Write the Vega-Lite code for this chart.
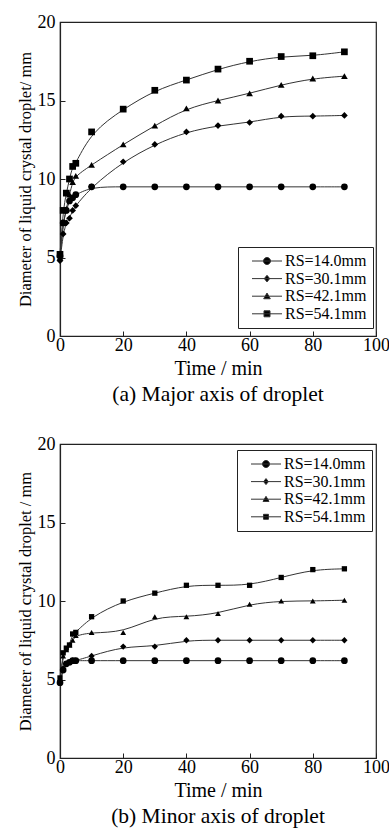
{
  "$schema": "https://vega.github.io/schema/vega-lite/v6.json",
  "padding": {"left": 16, "top": 12, "right": 0, "bottom": 0},
  "background": "white",
  "datasets": {
    "major": [
      {"t": 0, "d": 5.1, "RS": "RS=14.0mm"}, {"t": 1, "d": 7.2, "RS": "RS=14.0mm"}, {"t": 2, "d": 8.0, "RS": "RS=14.0mm"}, {"t": 3, "d": 8.6, "RS": "RS=14.0mm"}, {"t": 4, "d": 8.8, "RS": "RS=14.0mm"}, {"t": 5, "d": 9.0, "RS": "RS=14.0mm"}, {"t": 10, "d": 9.5, "RS": "RS=14.0mm"}, {"t": 20, "d": 9.5, "RS": "RS=14.0mm"}, {"t": 30, "d": 9.5, "RS": "RS=14.0mm"}, {"t": 40, "d": 9.5, "RS": "RS=14.0mm"}, {"t": 50, "d": 9.5, "RS": "RS=14.0mm"}, {"t": 60, "d": 9.5, "RS": "RS=14.0mm"}, {"t": 70, "d": 9.5, "RS": "RS=14.0mm"}, {"t": 80, "d": 9.5, "RS": "RS=14.0mm"}, {"t": 90, "d": 9.5, "RS": "RS=14.0mm"},
      {"t": 0, "d": 4.8, "RS": "RS=30.1mm"}, {"t": 1, "d": 6.5, "RS": "RS=30.1mm"}, {"t": 2, "d": 7.2, "RS": "RS=30.1mm"}, {"t": 3, "d": 7.5, "RS": "RS=30.1mm"}, {"t": 4, "d": 8.0, "RS": "RS=30.1mm"}, {"t": 5, "d": 8.3, "RS": "RS=30.1mm"}, {"t": 10, "d": 9.5, "RS": "RS=30.1mm"}, {"t": 20, "d": 11.1, "RS": "RS=30.1mm"}, {"t": 30, "d": 12.2, "RS": "RS=30.1mm"}, {"t": 40, "d": 13.0, "RS": "RS=30.1mm"}, {"t": 50, "d": 13.4, "RS": "RS=30.1mm"}, {"t": 60, "d": 13.6, "RS": "RS=30.1mm"}, {"t": 70, "d": 14.0, "RS": "RS=30.1mm"}, {"t": 80, "d": 14.0, "RS": "RS=30.1mm"}, {"t": 90, "d": 14.05, "RS": "RS=30.1mm"},
      {"t": 0, "d": 5.0, "RS": "RS=42.1mm"}, {"t": 1, "d": 7.2, "RS": "RS=42.1mm"}, {"t": 2, "d": 8.1, "RS": "RS=42.1mm"}, {"t": 3, "d": 9.0, "RS": "RS=42.1mm"}, {"t": 4, "d": 9.8, "RS": "RS=42.1mm"}, {"t": 5, "d": 10.2, "RS": "RS=42.1mm"}, {"t": 10, "d": 10.9, "RS": "RS=42.1mm"}, {"t": 20, "d": 12.2, "RS": "RS=42.1mm"}, {"t": 30, "d": 13.4, "RS": "RS=42.1mm"}, {"t": 40, "d": 14.5, "RS": "RS=42.1mm"}, {"t": 50, "d": 15.0, "RS": "RS=42.1mm"}, {"t": 60, "d": 15.45, "RS": "RS=42.1mm"}, {"t": 70, "d": 16.0, "RS": "RS=42.1mm"}, {"t": 80, "d": 16.4, "RS": "RS=42.1mm"}, {"t": 90, "d": 16.55, "RS": "RS=42.1mm"},
      {"t": 0, "d": 5.2, "RS": "RS=54.1mm"}, {"t": 1, "d": 8.0, "RS": "RS=54.1mm"}, {"t": 2, "d": 9.1, "RS": "RS=54.1mm"}, {"t": 3, "d": 10.0, "RS": "RS=54.1mm"}, {"t": 4, "d": 10.8, "RS": "RS=54.1mm"}, {"t": 5, "d": 11.0, "RS": "RS=54.1mm"}, {"t": 10, "d": 13.0, "RS": "RS=54.1mm"}, {"t": 20, "d": 14.45, "RS": "RS=54.1mm"}, {"t": 30, "d": 15.65, "RS": "RS=54.1mm"}, {"t": 40, "d": 16.3, "RS": "RS=54.1mm"}, {"t": 50, "d": 17.0, "RS": "RS=54.1mm"}, {"t": 60, "d": 17.5, "RS": "RS=54.1mm"}, {"t": 70, "d": 17.8, "RS": "RS=54.1mm"}, {"t": 80, "d": 17.85, "RS": "RS=54.1mm"}, {"t": 90, "d": 18.1, "RS": "RS=54.1mm"}
    ],
    "minor": [
      {"t": 0, "d": 4.8, "RS": "RS=14.0mm"}, {"t": 1, "d": 5.6, "RS": "RS=14.0mm"}, {"t": 2, "d": 6.0, "RS": "RS=14.0mm"}, {"t": 3, "d": 6.1, "RS": "RS=14.0mm"}, {"t": 4, "d": 6.2, "RS": "RS=14.0mm"}, {"t": 5, "d": 6.2, "RS": "RS=14.0mm"}, {"t": 10, "d": 6.2, "RS": "RS=14.0mm"}, {"t": 20, "d": 6.2, "RS": "RS=14.0mm"}, {"t": 30, "d": 6.2, "RS": "RS=14.0mm"}, {"t": 40, "d": 6.2, "RS": "RS=14.0mm"}, {"t": 50, "d": 6.2, "RS": "RS=14.0mm"}, {"t": 60, "d": 6.2, "RS": "RS=14.0mm"}, {"t": 70, "d": 6.2, "RS": "RS=14.0mm"}, {"t": 80, "d": 6.2, "RS": "RS=14.0mm"}, {"t": 90, "d": 6.2, "RS": "RS=14.0mm"},
      {"t": 0, "d": 4.9, "RS": "RS=30.1mm"}, {"t": 1, "d": 5.7, "RS": "RS=30.1mm"}, {"t": 2, "d": 6.0, "RS": "RS=30.1mm"}, {"t": 3, "d": 6.1, "RS": "RS=30.1mm"}, {"t": 4, "d": 6.2, "RS": "RS=30.1mm"}, {"t": 5, "d": 6.2, "RS": "RS=30.1mm"}, {"t": 10, "d": 6.5, "RS": "RS=30.1mm"}, {"t": 20, "d": 7.1, "RS": "RS=30.1mm"}, {"t": 30, "d": 7.1, "RS": "RS=30.1mm"}, {"t": 40, "d": 7.5, "RS": "RS=30.1mm"}, {"t": 50, "d": 7.5, "RS": "RS=30.1mm"}, {"t": 60, "d": 7.5, "RS": "RS=30.1mm"}, {"t": 70, "d": 7.5, "RS": "RS=30.1mm"}, {"t": 80, "d": 7.5, "RS": "RS=30.1mm"}, {"t": 90, "d": 7.5, "RS": "RS=30.1mm"},
      {"t": 0, "d": 5.0, "RS": "RS=42.1mm"}, {"t": 1, "d": 6.5, "RS": "RS=42.1mm"}, {"t": 2, "d": 6.9, "RS": "RS=42.1mm"}, {"t": 3, "d": 7.2, "RS": "RS=42.1mm"}, {"t": 4, "d": 7.5, "RS": "RS=42.1mm"}, {"t": 5, "d": 7.8, "RS": "RS=42.1mm"}, {"t": 10, "d": 8.0, "RS": "RS=42.1mm"}, {"t": 20, "d": 8.0, "RS": "RS=42.1mm"}, {"t": 30, "d": 9.0, "RS": "RS=42.1mm"}, {"t": 40, "d": 9.0, "RS": "RS=42.1mm"}, {"t": 50, "d": 9.2, "RS": "RS=42.1mm"}, {"t": 60, "d": 9.8, "RS": "RS=42.1mm"}, {"t": 70, "d": 10.0, "RS": "RS=42.1mm"}, {"t": 80, "d": 10.0, "RS": "RS=42.1mm"}, {"t": 90, "d": 10.05, "RS": "RS=42.1mm"},
      {"t": 0, "d": 5.1, "RS": "RS=54.1mm"}, {"t": 1, "d": 6.7, "RS": "RS=54.1mm"}, {"t": 2, "d": 7.0, "RS": "RS=54.1mm"}, {"t": 3, "d": 7.2, "RS": "RS=54.1mm"}, {"t": 4, "d": 7.9, "RS": "RS=54.1mm"}, {"t": 5, "d": 8.0, "RS": "RS=54.1mm"}, {"t": 10, "d": 9.0, "RS": "RS=54.1mm"}, {"t": 20, "d": 10.0, "RS": "RS=54.1mm"}, {"t": 30, "d": 10.5, "RS": "RS=54.1mm"}, {"t": 40, "d": 11.0, "RS": "RS=54.1mm"}, {"t": 50, "d": 11.0, "RS": "RS=54.1mm"}, {"t": 60, "d": 11.0, "RS": "RS=54.1mm"}, {"t": 70, "d": 11.5, "RS": "RS=54.1mm"}, {"t": 80, "d": 12.0, "RS": "RS=54.1mm"}, {"t": 90, "d": 12.05, "RS": "RS=54.1mm"}
    ]
  },
  "spacing": 27,
  "vconcat": [
    {
      "width": 316,
      "height": 314,
      "data": {"name": "major"},
      "title": {"text": "(a) Major axis of droplet", "orient": "bottom", "fontSize": 21.5, "offset": 6},
      "encoding": {
        "x": {"field": "t", "type": "quantitative", "scale": {"domain": [0, 100]}, "axis": {"values": [0, 20, 40, 60, 80, 100], "title": "Time / min"}},
        "y": {"field": "d", "type": "quantitative", "scale": {"domain": [0, 20]}, "axis": {"values": [0, 5, 10, 15, 20], "title": "Diameter of liquid crystal droplet/ mm"}}
      },
      "layer": [
        {"mark": {"type": "line", "color": "#333", "strokeWidth": 1, "interpolate": "basis"}, "encoding": {"detail": {"field": "RS"}}},
        {"mark": {"type": "point", "filled": true, "color": "black", "opacity": 1, "size": 45},
         "encoding": {"shape": {"field": "RS", "type": "nominal", "scale": {"domain": ["RS=14.0mm", "RS=30.1mm", "RS=42.1mm", "RS=54.1mm"], "range": ["circle", "diamond", "triangle-up", "square"]}, "legend": null}}},
        {"mark": {"type": "point", "filled": true, "color": "black", "stroke": "#333", "strokeWidth": 1, "opacity": 0, "size": 225},
         "encoding": {"shape": {"field": "RS", "type": "nominal",
           "scale": {"domain": ["RS=14.0mm", "RS=30.1mm", "RS=42.1mm", "RS=54.1mm"],
             "range": ["M-2,0H2M0.47,0A0.47,0.47,0,1,1,-0.47,0A0.47,0.47,0,1,1,0.47,0Z", "M-2,0H2M0,-0.44L0.36,0L0,0.44L-0.36,0Z", "M-2,0H2M0,-0.42L0.44,0.34L-0.44,0.34Z", "M-2,0H2M-0.4,-0.4H0.4V0.4H-0.4Z"]},
           "legend": {"title": null, "orient": "none", "legendX": 178, "legendY": 225, "strokeColor": "#222", "fillColor": "white", "padding": 6, "labelFont": "Liberation Serif", "labelFontSize": 16, "labelColor": "black", "symbolSize": 225, "symbolOpacity": 1, "symbolOffset": 15, "labelOffset": 10, "rowPadding": 1.6, "symbolStrokeWidth": 1}}}}
      ],
      "resolve": {"scale": {"shape": "independent"}, "legend": {"shape": "independent"}}
    },
    {
      "width": 316,
      "height": 314,
      "data": {"name": "minor"},
      "title": {"text": "(b) Minor axis of droplet", "orient": "bottom", "fontSize": 21.5, "offset": 6},
      "encoding": {
        "x": {"field": "t", "type": "quantitative", "scale": {"domain": [0, 100]}, "axis": {"values": [0, 20, 40, 60, 80, 100], "title": "Time / min"}},
        "y": {"field": "d", "type": "quantitative", "scale": {"domain": [0, 20]}, "axis": {"values": [0, 5, 10, 15, 20], "title": "Diameter of liquid crystal droplet / mm"}}
      },
      "layer": [
        {"mark": {"type": "line", "color": "#333", "strokeWidth": 1, "interpolate": "basis"}, "encoding": {"detail": {"field": "RS"}}},
        {"mark": {"type": "point", "filled": true, "color": "black", "opacity": 1},
         "encoding": {"shape": {"field": "RS", "type": "nominal", "scale": {"domain": ["RS=14.0mm", "RS=30.1mm", "RS=42.1mm", "RS=54.1mm"], "range": ["circle", "diamond", "triangle-up", "square"]}, "legend": null},
           "size": {"field": "RS", "type": "nominal", "scale": {"domain": ["RS=14.0mm", "RS=30.1mm", "RS=42.1mm", "RS=54.1mm"], "range": [45, 28, 25, 30]}, "legend": null}}},
        {"mark": {"type": "point", "filled": true, "color": "black", "stroke": "#333", "strokeWidth": 1, "opacity": 0, "size": 225},
         "encoding": {"shape": {"field": "RS", "type": "nominal",
           "scale": {"domain": ["RS=14.0mm", "RS=30.1mm", "RS=42.1mm", "RS=54.1mm"],
             "range": ["M-2,0H2M0.47,0A0.47,0.47,0,1,1,-0.47,0A0.47,0.47,0,1,1,0.47,0Z", "M-2,0H2M0,-0.4L0.32,0L0,0.4L-0.32,0Z", "M-2,0H2M0,-0.38L0.4,0.3L-0.4,0.3Z", "M-2,0H2M-0.33,-0.33H0.33V0.33H-0.33Z"]},
           "legend": {"title": null, "orient": "none", "legendX": 177, "legendY": 6, "strokeColor": "#222", "fillColor": "white", "padding": 6, "labelFont": "Liberation Serif", "labelFontSize": 16, "labelColor": "black", "symbolSize": 225, "symbolOpacity": 1, "symbolOffset": 15, "labelOffset": 10, "rowPadding": 1.6, "symbolStrokeWidth": 1}}}}
      ],
      "resolve": {"scale": {"shape": "independent", "size": "independent"}, "legend": {"shape": "independent"}}
    }
  ],
  "config": {
    "font": "Liberation Serif",
    "view": {"stroke": "#222", "strokeWidth": 1.2},
    "axis": {"grid": false, "labelFont": "Liberation Serif", "labelFontSize": 18, "labelColor": "black", "titleFont": "Liberation Serif", "titleFontWeight": "normal", "titleColor": "black", "domainColor": "#222", "domainWidth": 1.2, "tickColor": "#222", "tickSize": -5, "labelPadding": 5, "titlePadding": 4},
    "axisX": {"titleFontSize": 20, "labelFlush": false},
    "axisY": {"titleFontSize": 16.5, "labelPadding": 10},
    "title": {"font": "Liberation Serif", "fontWeight": "normal", "color": "black"}
  }
}
